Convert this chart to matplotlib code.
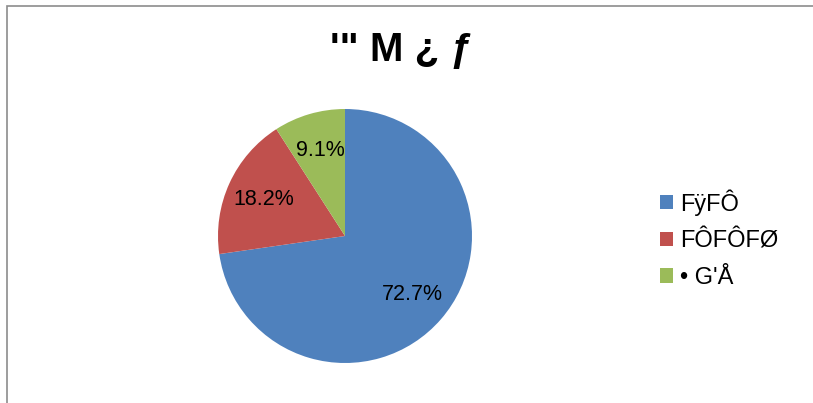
import matplotlib
matplotlib.use("Agg")
import matplotlib.pyplot as plt
from matplotlib.patches import Rectangle

plt.rcParams["font.family"] = ["Liberation Sans", "DejaVu Sans"]

title = "'\" M \u00bf \u0192"
labels = ["F\u00ffF\u00d4", "F\u00d4F\u00d4F\u00d8", "\u2022 G'\u00c5"]
values = [8, 2, 1]
colors = ["#4F81BD", "#C0504D", "#9BBB59"]

W, H = 813, 403
fig = plt.figure(figsize=(W / 100, H / 100), dpi=100)

# chart frame (right and bottom edges fall outside the image)
fig.patches.append(Rectangle((7 / W, -0.1), 1.5, (H - 6) / H + 0.1, transform=fig.transFigure,
                             fill=False, edgecolor="#8c8c8c", linewidth=1.2, clip_on=False))

ax = fig.add_axes([218 / W, (H - 363) / H, 254 / W, 254 / H])
wedges, texts, autotexts = ax.pie(values, colors=colors, startangle=90, counterclock=False,
                                  autopct="%.1f%%", pctdistance=0.7, radius=1,
                                  textprops={"fontsize": 15.5, "color": "black"})
ax.set_xlim(-1, 1)
ax.set_ylim(-1, 1)
ax.set_aspect("equal")
ax.axis("off")

fig.text(401 / W, 1 - 50 / H, title, ha="center", va="center", fontsize=29, fontweight="bold")

fig.legend(wedges, labels, loc="upper left", bbox_to_anchor=(653 / W, 1 - 182 / H),
           frameon=False, fontsize=17, handlelength=0.55, handleheight=0.55,
           handletextpad=0.3, labelspacing=0.62, borderaxespad=0, borderpad=0.3)

fig.savefig("out.png", dpi=100)
